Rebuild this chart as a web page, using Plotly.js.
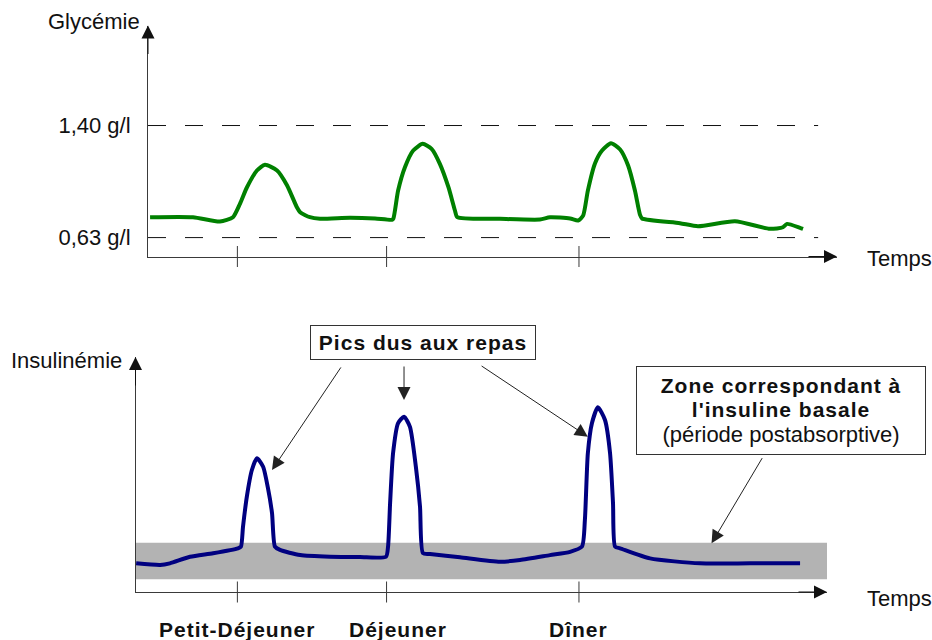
<!DOCTYPE html>
<html>
<head>
<meta charset="utf-8">
<script src="https://cdn.plot.ly/plotly-3.0.1.min.js"></script>
<style>
html,body{margin:0;padding:0;background:#fff;}
#chart{width:932px;height:640px;}
</style>
</head>
<body>
<div id="chart"></div>
<script>
// ---------- DATA ----------
// time of day (hours), schematic
const mealTimes = [7.02, 12.06, 18.56];
const mealLabels = ["Petit-Déjeuner", "Déjeuner", "Dîner"];

// Glycémie (g/l)
const glyTime = [4.07,5.52,6.43,6.87,7.11,7.34,7.68,7.95,8.36,8.70,9.03,9.14,9.47,9.81,10.82,11.67,12.24,12.29,12.45,12.68,12.96,13.28,13.58,13.86,14.15,14.37,14.45,15.89,17.24,17.58,18.26,18.53,18.70,18.86,19.10,19.34,19.64,19.95,20.22,20.45,20.62,20.69,21.97,22.58,23.83,25.01,25.45,25.59,26.03,26.13];
const glyValue = [0.770,0.770,0.740,0.770,0.864,0.974,1.091,1.130,1.091,0.988,0.838,0.804,0.770,0.759,0.766,0.761,0.752,0.761,0.953,1.113,1.228,1.274,1.240,1.137,0.976,0.816,0.770,0.759,0.754,0.770,0.761,0.747,0.781,0.953,1.139,1.228,1.278,1.235,1.125,0.953,0.788,0.761,0.729,0.708,0.742,0.690,0.701,0.724,0.697,0.690];
const glyRefLevels = [1.40, 0.63];
const glyRefLabels = ["1,40 g/l", "0,63 g/l"];
const glyRefEnd = 26.64;

// Insulinémie (arbitrary units)
const insTime = [3.60,4.41,4.74,5.42,6.20,7.04,7.14,7.21,7.34,7.51,7.68,7.89,8.05,8.19,8.29,8.46,9.14,10.15,11.16,12.04,12.11,12.18,12.28,12.45,12.65,12.85,13.05,13.19,13.29,13.53,14.54,15.89,16.57,17.58,18.26,18.66,18.76,18.86,19.00,19.20,19.44,19.61,19.71,19.78,19.95,20.96,22.65,24.34,26.03];
const insValue = [12.2,11.5,12.2,15.0,16.5,18.6,19.3,27.8,40.6,51.9,56.9,53.3,44.4,33.6,19.3,17.9,15.7,15.0,14.9,15.0,19.3,37.9,59.1,71.9,74.6,70.3,53.3,36.3,16.5,16.2,14.8,12.9,13.6,15.7,17.1,19.3,30.6,59.0,71.9,78.6,73.2,59.1,37.9,19.3,18.6,14.3,12.2,12.2,12.2];
const basalBand = [5.4, 21.0];      // insulin basal zone (low, high)
const basalBandTime = [3.578, 26.97];

// ---------- CHART ----------
const FONT = "Liberation Sans, Arial, sans-serif";
const AX = "#3a3a3a";

const traces = [];
glyRefLevels.forEach(function(lv){
  traces.push({x:[4, glyRefEnd], y:[lv, lv], xaxis:'x', yaxis:'y', mode:'lines',
    line:{color:'#111', width:1, dash:'18px,19px'}, hoverinfo:'skip'});
});
traces.push({x:glyTime, y:glyValue, xaxis:'x', yaxis:'y', mode:'lines',
  line:{color:'#008000', width:4, shape:'spline', smoothing:0.6}, hoverinfo:'skip'});
traces.push({x:insTime, y:insValue, xaxis:'x2', yaxis:'y2', mode:'lines',
  line:{color:'#000080', width:4, shape:'spline', smoothing:0.6}, hoverinfo:'skip'});
traces.push({x:mealTimes, y:mealTimes.map(function(){return 0.5;}), xaxis:'x', yaxis:'y', mode:'markers', cliponaxis:false,
  marker:{symbol:'line-ns', size:15, line:{color:AX, width:1}}, hoverinfo:'skip'});
traces.push({x:mealTimes, y:mealTimes.map(function(){return 0;}), xaxis:'x2', yaxis:'y2', mode:'markers', cliponaxis:false,
  marker:{symbol:'line-ns', size:15, line:{color:AX, width:1}}, hoverinfo:'skip'});

function arrowTip(xref, yref, x, y, ax, ay){
  return {xref:xref, yref:yref, x:x, y:y, ax:ax, ay:ay, text:'', showarrow:true,
    arrowhead:2, arrowsize:2.6, arrowwidth:1, arrowcolor:'#111', standoff:0};
}
function pointer(x, y, ax, ay){
  return {xref:'x2', yref:'y2', axref:'x2', ayref:'y2', x:x, y:y, ax:ax, ay:ay, text:'', showarrow:true,
    arrowhead:2, arrowsize:2.6, arrowwidth:1, arrowcolor:'#222', standoff:0};
}
const SP = "letter-spacing:1px";
const annotations = [
  arrowTip('x domain','y domain',0,1,0,30),
  arrowTip('x domain','y domain',1,0,-30,0),
  arrowTip('x2 domain','y2 domain',0,1,0,30),
  arrowTip('x2 domain','y2 domain',1,0,-30,0),
  {xref:'x domain', yref:'y domain', x:0, y:1, xanchor:'right', yanchor:'middle', xshift:-6, yshift:4,
    text:'Glycémie', showarrow:false, font:{size:22, color:'#111'}},
  {xref:'x2 domain', yref:'y2 domain', x:0, y:1, xanchor:'right', yanchor:'middle', xshift:-12, yshift:-3,
    text:'Insulinémie', showarrow:false, font:{size:22, color:'#111'}},
  {xref:'paper', yref:'y domain', x:865/932, y:0, xanchor:'left', yanchor:'middle', yshift:-2,
    text:'Temps', showarrow:false, font:{size:22, color:'#111'}},
  {xref:'paper', yref:'y2 domain', x:865/932, y:0, xanchor:'left', yanchor:'middle', yshift:-6,
    text:'Temps', showarrow:false, font:{size:22, color:'#111'}},
  {xref:'paper', yref:'paper', x:423.3/932, y:1-342.5/640, xanchor:'center', yanchor:'middle',
    text:"<span style='"+SP+"'><b>Pics dus aux repas</b></span>", showarrow:false,
    font:{size:21, color:'#111'}, bordercolor:'#333', borderwidth:1, borderpad:0, bgcolor:'#fff', width:224, height:33},
  {xref:'paper', yref:'paper', x:780.5/932, y:1-410.5/640, xanchor:'center', yanchor:'middle',
    text:"<span style='"+SP+"'><b><span style='font-size:21px'>Zone correspondant à</span></b></span><br><span style='"+SP+"'><b><span style='font-size:21px'>l'insuline basale</span></b></span><br><span style='font-size:22px'>(période postabsorptive)</span>",
    showarrow:false, font:{size:19, color:'#111'}, bordercolor:'#333', borderwidth:1, borderpad:0, bgcolor:'#fff', width:288, height:87},
  pointer(8.19, 51.9, 10.55, 96.2),
  pointer(12.65, 81.7, 12.65, 96.6),
  pointer(18.86, 66.1, 15.22, 96.6),
  pointer(23.04, 20.7, 24.78, 57.6)
];
const mealShift = [0, 11, 0];
mealTimes.forEach(function(t, i){
  annotations.push({xref:'x2', yref:'y2 domain', x:t, y:0, xanchor:'center', yanchor:'middle', yshift:-37, xshift:mealShift[i],
    text:"<span style='"+SP+"'><b>"+mealLabels[i]+"</b></span>", showarrow:false, font:{size:21, color:'#111'}});
});

const layout = {
  width:932, height:640, margin:{l:0, r:0, t:0, b:0}, showlegend:false,
  paper_bgcolor:'#fff', plot_bgcolor:'rgba(0,0,0,0)',
  font:{family:FONT, size:22, color:'#111'},
  xaxis:{domain:[148/932, 837/932], range:[4, 27.277], anchor:'y', showline:true, linecolor:AX, linewidth:1,
    showgrid:false, zeroline:false, showticklabels:false, ticks:'', fixedrange:true},
  yaxis:{domain:[1-256.5/640, 1-25.5/640], range:[0.5, 2.0873], anchor:'x', showline:true, linecolor:AX, linewidth:1,
    showgrid:false, zeroline:false, ticks:'', tickvals:glyRefLevels, ticktext:glyRefLabels, ticklabelstandoff:12,
    tickfont:{size:22, color:'#111'}, fixedrange:true},
  xaxis2:{domain:[135.5/932, 827/932], range:[3.578, 26.94], anchor:'y2', showline:true, linecolor:AX, linewidth:1,
    showgrid:false, zeroline:false, showticklabels:false, ticks:'', fixedrange:true},
  yaxis2:{domain:[48/640, 1-357/640], range:[0, 100], anchor:'x2', showline:true, linecolor:AX, linewidth:1,
    showgrid:false, zeroline:false, showticklabels:false, ticks:'', fixedrange:true},
  shapes:[{type:'rect', xref:'x2', yref:'y2', x0:basalBandTime[0], x1:basalBandTime[1], y0:basalBand[0], y1:basalBand[1],
    fillcolor:'#b3b3b3', line:{width:0}, layer:'below'}],
  annotations:annotations
};
Plotly.newPlot('chart', traces, layout, {staticPlot:true, displayModeBar:false});
</script>
</body>
</html>
